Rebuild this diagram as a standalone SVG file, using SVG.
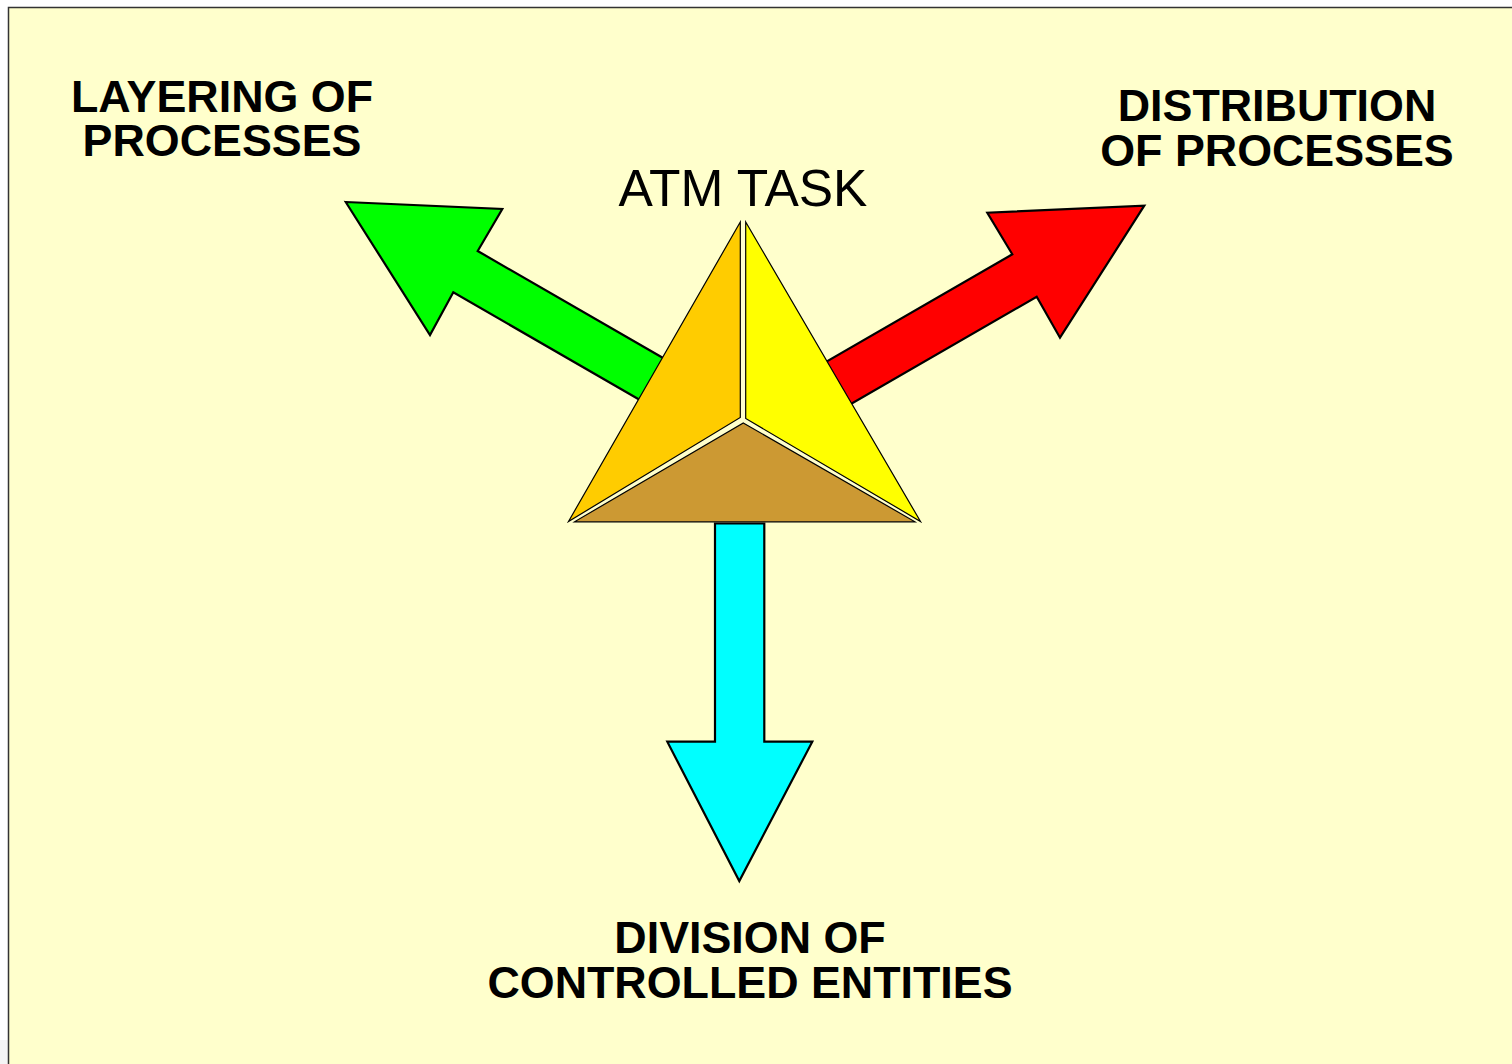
<svg xmlns="http://www.w3.org/2000/svg" width="1512" height="1064" viewBox="0 0 1512 1064">
  <style>
    .label { font-family: "Liberation Sans", Arial, sans-serif; font-weight: bold; font-size: 44.8px; fill: #000; text-anchor: middle; }
    .title { font-family: "Liberation Sans", Arial, sans-serif; font-size: 51.5px; fill: #000; text-anchor: middle; }
    .arrow { stroke: #000; stroke-width: 2.2; stroke-linejoin: miter; }
    .face { stroke: #000; stroke-width: 1.2; stroke-linejoin: miter; }
  </style>

  <!-- page -->
  <rect x="0" y="0" width="1512" height="1064" fill="#ffffff"/>
  <rect x="0" y="1040" width="8" height="24" fill="#f5f5f5"/>
  <rect x="8.5" y="7.5" width="1512" height="1064" fill="#ffffcc" stroke="#333333" stroke-width="1.5"/>

  <!-- arrows radiating from the pyramid -->
  <g id="connectors">
    <polygon id="arrow-layering" class="arrow" fill="#00ff00"
      points="345.7,202 502.3,209 477.7,251 702.9,381 678.5,422.3 453.3,292.3 430,335"/>
    <polygon id="arrow-distribution" class="arrow" fill="#ff0000"
      points="1144.3,205.7 1060,337.7 1036.7,296.7 811.5,426.7 787.1,384.3 1012.3,254.3 987.3,212.7"/>
    <polygon id="arrow-division" class="arrow" fill="#00ffff"
      points="715,523.5 764.3,523.5 764.3,741.7 812.3,741.7 739.3,881 667.3,741.7 715,741.7"/>
  </g>

  <!-- ATM task pyramid -->
  <g id="atm-task">
    <polygon class="face" fill="#ffcc00" points="740.3,222 740.3,417.5 568.5,521.5"/>
    <polygon class="face" fill="#ffff00" points="745.7,222 745.7,418.5 920.5,521.5"/>
    <polygon class="face" fill="#cc9933" points="743.3,423 915,521.8 574.5,521.8"/>
    <text class="title" x="743" y="206">ATM TASK</text>
  </g>

  <g id="layering">
    <text class="label" x="222" y="112">LAYERING OF</text>
    <text class="label" x="222" y="156">PROCESSES</text>
  </g>

  <g id="distribution">
    <text class="label" x="1277" y="121">DISTRIBUTION</text>
    <text class="label" x="1277" y="166">OF PROCESSES</text>
  </g>

  <g id="division">
    <text class="label" x="750" y="953">DIVISION OF</text>
    <text class="label" x="750" y="998">CONTROLLED ENTITIES</text>
  </g>
</svg>
